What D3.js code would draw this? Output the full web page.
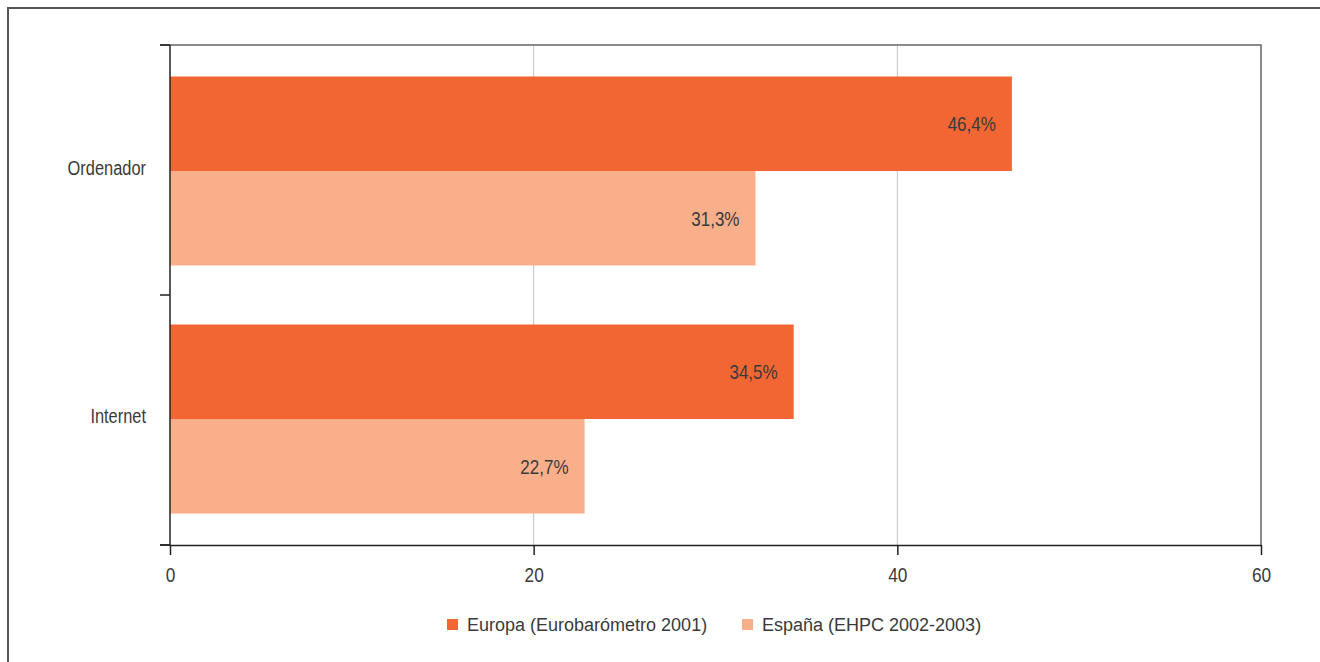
<!DOCTYPE html>
<html>
<head>
<meta charset="utf-8">
<script src="https://cdn.jsdelivr.net/npm/d3@7"></script>
<style>
  body { margin: 0; background: #fff; }
  svg { display: block; }
  text { font-family: "Liberation Sans", Arial, sans-serif; fill: #3a3a3a; }
</style>
</head>
<body>
<div id="wrapper"></div>
<script>
// Data
const categories = ['Ordenador', 'Internet'];
const seriesNames = ['Europa (Eurobarómetro 2001)', 'España (EHPC 2002-2003)'];
const europaValues = [46.3, 34.3];
const espanaValues = [32.2, 22.8];
const europaLabels = ['46,4%', '34,5%'];
const espanaLabels = ['31,3%', '22,7%'];
const xTicks = [0, 20, 40, 60];
const colors = ['#f26633', '#f9af8a'];

// squeeze text horizontally to mimic the condensed face of the original
function narrow(sel, k) {
  sel.each(function() {
    const len = this.getComputedTextLength();
    d3.select(this).attr('textLength', len * k).attr('lengthAdjust', 'spacingAndGlyphs');
  });
}

// Dimensions
const dimensions = {
  width: 1320, height: 662,
  margins: {top: 45, right: 59, bottom: 117, left: 170}
};
dimensions.boundedWidth = dimensions.width - dimensions.margins.left - dimensions.margins.right;
dimensions.boundedHeight = dimensions.height - dimensions.margins.top - dimensions.margins.bottom;

const svg = d3.select('#wrapper').append('svg')
  .attr('width', dimensions.width).attr('height', dimensions.height);

// outer frame (top + left only)
svg.append('path')
  .attr('d', `M8,${dimensions.height} V8 H${dimensions.width}`)
  .attr('fill', 'none').attr('stroke', '#555').attr('stroke-width', 2);

const bounds = svg.append('g')
  .attr('transform', `translate(${dimensions.margins.left},${dimensions.margins.top})`);

// Scales
const xScale = d3.scaleLinear().domain([0, 60]).range([0, dimensions.boundedWidth]);
// tick bands on the category axis
const yScale = d3.scaleBand().domain(categories).range([0, dimensions.boundedHeight]);
// bar groups inside the plot
const groupScale = d3.scaleBand().domain(categories).range([0, dimensions.boundedHeight])
  .paddingInner(0.238).paddingOuter(0.127);
const subScale = d3.scaleBand().domain([0, 1]).range([0, groupScale.bandwidth()]);

// gridlines
bounds.append('g').selectAll('line')
  .data(xTicks.filter(d => d > 0 && d < 60)).enter().append('line')
  .attr('x1', d => xScale(d)).attr('x2', d => xScale(d))
  .attr('y1', 0).attr('y2', dimensions.boundedHeight)
  .attr('stroke', '#c4c4c4').attr('stroke-width', 1);

// frame top + right of plot
bounds.append('path')
  .attr('d', `M-10,0 H${dimensions.boundedWidth} V${dimensions.boundedHeight}`)
  .attr('fill', 'none').attr('stroke', '#666').attr('stroke-width', 1.5);

// bars
const rows = categories.map((c, i) => ({
  cat: c,
  bars: [
    {s: 0, v: europaValues[i], label: europaLabels[i]},
    {s: 1, v: espanaValues[i], label: espanaLabels[i]}
  ]
}));
const groups = bounds.selectAll('g.cat').data(rows).enter().append('g')
  .attr('class', 'cat')
  .attr('transform', d => `translate(0,${groupScale(d.cat)})`);
groups.selectAll('rect').data(d => d.bars).enter().append('rect')
  .attr('x', 0).attr('y', d => subScale(d.s))
  .attr('width', d => xScale(d.v)).attr('height', subScale.bandwidth())
  .attr('fill', d => colors[d.s]);
groups.selectAll('text.val').data(d => d.bars).enter().append('text')
  .attr('class', 'val')
  .attr('x', d => xScale(d.v) - 16)
  .attr('y', d => subScale(d.s) + subScale.bandwidth() / 2)
  .attr('dy', '0.36em').attr('text-anchor', 'end')
  .attr('font-size', 21).text(d => d.label)
  .call(narrow, 0.81);

// y axis
const yAxis = bounds.append('g');
yAxis.append('line').attr('x1', 0).attr('x2', 0)
  .attr('y1', 0).attr('y2', dimensions.boundedHeight)
  .attr('stroke', '#222').attr('stroke-width', 1.5);
const yTickPos = categories.map(c => yScale(c)).concat([dimensions.boundedHeight]);
yAxis.selectAll('line.tick').data(yTickPos).enter().append('line')
  .attr('class', 'tick')
  .attr('x1', -10).attr('x2', 0).attr('y1', d => d).attr('y2', d => d)
  .attr('stroke', '#222').attr('stroke-width', 1.5);
yAxis.selectAll('text').data(categories).enter().append('text')
  .attr('x', -24).attr('y', d => groupScale(d) + groupScale.bandwidth() / 2)
  .attr('dy', '0.2em').attr('text-anchor', 'end')
  .attr('font-size', 20).text(d => d)
  .call(narrow, 0.82);

// x axis
const xAxisGenerator = d3.axisBottom(xScale).tickValues(xTicks)
  .tickSize(10).tickSizeOuter(0).tickPadding(12);
const xAxis = bounds.append('g').call(xAxisGenerator)
  .attr('transform', `translate(0,${dimensions.boundedHeight})`);
xAxis.select('.domain').attr('stroke', '#222').attr('stroke-width', 1.5);
xAxis.selectAll('.tick line').attr('stroke', '#222').attr('stroke-width', 1.5);
xAxis.selectAll('.tick text')
  .attr('font-family', '"Liberation Sans", Arial, sans-serif')
  .attr('font-size', 21).attr('fill', '#3a3a3a')
  .call(narrow, 0.82);
bounds.append('line')
  .attr('x1', -10).attr('x2', 0)
  .attr('y1', dimensions.boundedHeight).attr('y2', dimensions.boundedHeight)
  .attr('stroke', '#222').attr('stroke-width', 1.5);

// legend
const legend = svg.append('g').attr('transform', 'translate(447,619)');
const legendX = [0, 295];
const items = legend.selectAll('g').data(seriesNames).enter().append('g')
  .attr('transform', (d, i) => `translate(${legendX[i]},0)`);
items.append('rect').attr('width', 11).attr('height', 11)
  .attr('fill', (d, i) => colors[i]);
items.append('text').attr('x', 20).attr('y', 5.5).attr('dy', '0.36em')
  .attr('font-size', 18).text(d => d);
</script>
</body>
</html>
